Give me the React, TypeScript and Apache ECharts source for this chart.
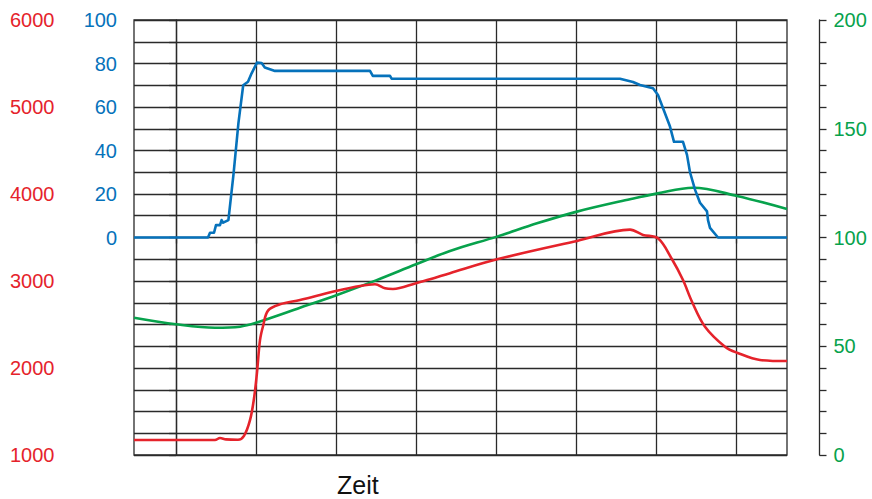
import React, { useEffect, useRef } from 'react';
import * as echarts from 'echarts';

// time axis: one unit per vertical grid line
const TIME_MIN = -0.525;
const TIME_MAX = 7.6375;
const TIME_TICKS = [0, 1, 2, 3, 4, 5, 6, 7];

// red series (left outer axis, 1000..6000)
const RED_T = [-0.525, 0.4875, 0.55, 0.625, 0.775, 0.85, 0.925, 0.975, 1.0125, 1.05, 1.0875, 1.15, 1.3, 1.55, 1.8, 2.0125, 2.3, 2.4875, 2.6125, 2.7125, 3.0, 3.175, 3.425, 4.0125, 5.0125, 5.675, 5.8375, 6.025, 6.2, 6.3375, 6.45, 6.6125, 6.8625, 7.0125, 7.3, 7.6375];
const RED_V = [1172, 1172, 1195, 1180, 1175, 1220, 1400, 1650, 1950, 2320, 2480, 2660, 2732, 2782, 2839, 2889, 2943, 2962, 2916, 2908, 2975, 3019, 3090, 3249, 3460, 3590, 3530, 3490, 3250, 3011, 2762, 2475, 2245, 2176, 2092, 2080];

// blue series (left inner axis, 0..100)
const BLUE_T = [-0.525, 0.4, 0.425, 0.475, 0.5, 0.55, 0.57, 0.59, 0.655, 0.72, 0.78, 0.84, 0.9, 0.945, 1.0125, 1.07, 1.11, 1.2375, 2.425, 2.46, 2.675, 2.695, 5.55, 5.7125, 5.8, 5.9625, 6.025, 6.175, 6.225, 6.3375, 6.3875, 6.425, 6.4875, 6.55, 6.6375, 6.65, 6.675, 6.775, 7.6375];
const BLUE_V = [0, 0, 2.2, 2.2, 5.7, 5.7, 8, 6.8, 8, 29.5, 52.5, 70, 71.6, 75.5, 80.4, 80.2, 78.2, 76.6, 76.6, 74.3, 74.3, 73, 73, 71.5, 70.1, 68.6, 65.5, 51, 44, 44, 38, 30, 22, 16, 12, 8, 4.4, 0, 0];

// green series (right axis, 0..200)
const GREEN_T = [-0.525, 0, 0.4875, 0.8, 1.0, 1.55, 2.0125, 2.5, 3.0, 3.425, 4.0125, 4.5125, 5.0125, 5.675, 6.02, 6.4625, 7.0125, 7.6375];
const GREEN_V = [63.1, 60.1, 58.5, 59, 60.8, 67.7, 73.6, 80.3, 87.7, 93.8, 100.4, 106.5, 111.9, 117.6, 120.3, 122.9, 119.1, 113.1];

const RED = '#e5232b';
const BLUE = '#0672bb';
const GREEN = '#07a24c';
const GRIDC = '#2a2a2a';
const FONT = "'Liberation Sans', Arial, sans-serif";

const zip = (t: number[], v: number[]) => t.map((x, i) => [x, v[i]]);

export default function App() {
  const ref = useRef<HTMLDivElement>(null);
  useEffect(() => {
    const chart = echarts.init(ref.current!, null, { renderer: 'svg' });
    chart.setOption({
      animation: false,
      grid: { left: 134, right: 85, top: 20, bottom: 44, show: true, borderColor: GRIDC, borderWidth: 1.3, backgroundColor: 'transparent' },
      graphic: [
        { type: 'text', left: 337, top: 472, style: { text: 'Zeit', font: `25px ${FONT}`, fill: '#111' } },
      ],
      xAxis: {
        type: 'value', min: TIME_MIN, max: TIME_MAX, splitNumber: 8,
        axisLine: { show: false },
        axisTick: { show: true, length: 6, customValues: TIME_TICKS, lineStyle: { color: GRIDC, width: 1.3 } },
        axisLabel: { show: false },
        splitLine: { show: true, lineStyle: { color: GRIDC, width: 1.3 } },
      },
      yAxis: [
        {
          type: 'value', min: 1000, max: 6000, interval: 250, position: 'left', offset: 60.5,
          axisLine: { show: true, lineStyle: { color: GRIDC, width: 1.3 } },
          axisTick: { show: true, inside: false, length: 7, lineStyle: { color: GRIDC, width: 1.3 } },
          axisLabel: { color: RED, fontSize: 20, fontFamily: FONT, margin: 19, formatter: (v: number) => (v % 1000 === 0 ? String(v) : '') },
          splitLine: { show: true, lineStyle: { color: GRIDC, width: 1.3 } },
        },
        {
          type: 'value', min: -100, max: 100, interval: 20, position: 'left', offset: 0,
          axisLine: { show: false }, axisTick: { show: false }, splitLine: { show: false },
          axisLabel: { color: BLUE, fontSize: 20, fontFamily: FONT, margin: 17, formatter: (v: number) => (v >= 0 ? String(v) : '') },
        },
        {
          type: 'value', min: 0, max: 200, interval: 10, position: 'right', offset: 32.5,
          axisLine: { show: true, lineStyle: { color: GRIDC, width: 1.3 } },
          axisTick: { show: true, inside: false, length: 7, lineStyle: { color: GRIDC, width: 1.3 } },
          axisLabel: { color: GREEN, fontSize: 20, fontFamily: FONT, margin: 14, formatter: (v: number) => (v % 50 === 0 ? String(v) : '') },
          splitLine: { show: false },
        },
      ],
      series: [
        { type: 'line', yAxisIndex: 2, data: zip(GREEN_T, GREEN_V), showSymbol: false, smooth: 0.35, lineStyle: { color: GREEN, width: 2.6 }, itemStyle: { color: GREEN } },
        { type: 'line', yAxisIndex: 0, data: zip(RED_T, RED_V), showSymbol: false, smooth: 0.35, lineStyle: { color: RED, width: 2.6 }, itemStyle: { color: RED } },
        { type: 'line', yAxisIndex: 1, data: zip(BLUE_T, BLUE_V), showSymbol: false, smooth: false, lineStyle: { color: BLUE, width: 2.6, join: 'round' }, itemStyle: { color: BLUE } },
      ],
    });
    return () => chart.dispose();
  }, []);
  return <div ref={ref} style={{ position: 'fixed', left: 0, top: 0, width: 872, height: 499, background: '#fff' }} />;
}
